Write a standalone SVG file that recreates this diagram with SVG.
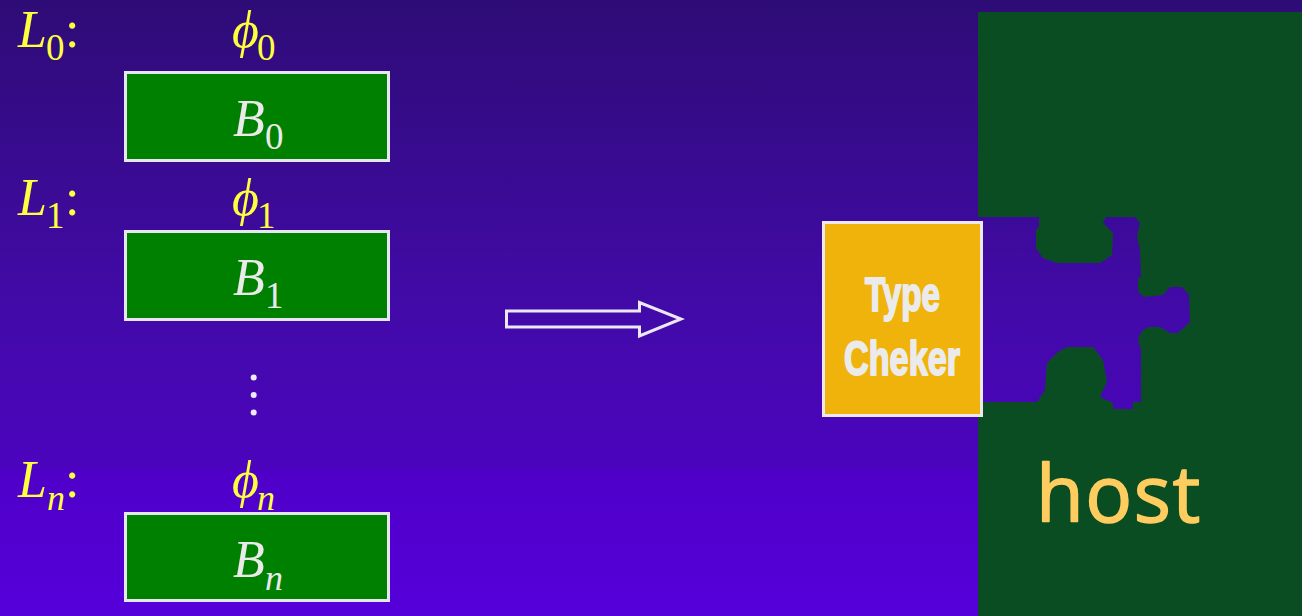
<svg xmlns="http://www.w3.org/2000/svg" width="1302" height="616" viewBox="0 0 1302 616">
<style>
.m{font-family:"Liberation Serif","Times New Roman",serif;font-style:italic;font-size:52px}
.s{font-size:37px;font-style:normal}
.si{font-size:36px;font-style:italic}
.c{font-size:52px;font-style:normal}
.y{fill:#ffff40}
.w{fill:#eaeaea}
.box{fill:#008000;stroke:#e8e6f2;stroke-width:3}
.tc{font-family:"Liberation Sans",Arial,sans-serif;font-weight:700;font-size:49px;fill:#ebebeb;stroke:#ebebeb;stroke-width:2;stroke-linejoin:round}
</style>
<defs>
<linearGradient id="bg" gradientUnits="userSpaceOnUse" x1="0" y1="0" x2="0" y2="616">
<stop offset="0" stop-color="#2e0c76"/>
<stop offset="0.5" stop-color="#420aa8"/>
<stop offset="0.76" stop-color="#4c04be"/>
<stop offset="0.765" stop-color="#4f00c8"/>
<stop offset="1" stop-color="#5500da"/>
</linearGradient>
</defs>
<rect id="background" width="1302" height="616" fill="url(#bg)"/>
<g id="host">
<rect x="978" y="12" width="324" height="604" fill="#0a4d22"/>
<path id="puzzle-cutout" fill="url(#bg)" d="M975 217H1039V227L1036 230V248L1043 258L1057 263H1100L1112 255L1113 233L1103 223L1106 217H1135L1140 223L1137 237L1140 250L1141 277L1138 278V291L1144 297L1163 295L1170 287H1182L1189 295L1190 322L1178 333H1170L1160 327H1148L1141 332L1138 340L1141 350V402H1133V409H1113V403L1100 397L1107 382L1103 360L1093 347H1067L1058 352L1047 363L1045 390L1037 402H975Z"/>
<text x="1036" y="522" font-family="'Open Sans','DejaVu Sans',sans-serif" font-size="78" letter-spacing="1.500" fill="#ffcc60" stroke="#ffcc60" stroke-width="1.500" stroke-linejoin="round">host</text>
</g>
<g id="label-0">
<text class="m y" x="18" y="47">L<tspan class="s" x="46" dy="13">0</tspan><tspan class="c" x="65" dy="-13">:</tspan></text>
<text class="m y" x="232" y="47">ϕ<tspan class="s" x="257" dy="13">0</tspan></text>
</g>
<g id="block-0">
<rect class="box" x="125.500" y="72.500" width="263" height="88"/>
<text class="m w" x="233" y="136">B<tspan class="s" x="265" dy="13">0</tspan></text>
</g>
<g id="label-1">
<text class="m y" x="18" y="215">L<tspan class="s" x="46" dy="13">1</tspan><tspan class="c" x="65" dy="-13">:</tspan></text>
<text class="m y" x="232" y="215">ϕ<tspan class="s" x="257" dy="13">1</tspan></text>
</g>
<g id="block-1">
<rect class="box" x="125.500" y="231.500" width="263" height="88"/>
<text class="m w" x="233" y="295">B<tspan class="s" x="265" dy="13">1</tspan></text>
</g>
<g id="ellipsis" fill="#eeeaf6">
<circle cx="253.700" cy="377.500" r="3"/><circle cx="253.700" cy="395" r="3"/><circle cx="253.700" cy="412.500" r="3"/>
</g>
<g id="label-n">
<text class="m y" x="18" y="497">L<tspan class="si" x="47" dy="13">n</tspan><tspan class="c" x="65" dy="-13">:</tspan></text>
<text class="m y" x="232" y="497">ϕ<tspan class="si" x="257" dy="13">n</tspan></text>
</g>
<g id="block-n">
<rect class="box" x="125.500" y="513.500" width="263" height="87"/>
<text class="m w" x="233" y="577">B<tspan class="si" x="265" dy="13">n</tspan></text>
</g>
<g id="connectors">
<path d="M506.500 311H639.500V302.500L681 319L639.500 336V327H506.500Z" fill="none" stroke="#ebe8f2" stroke-width="3"/>
</g>
<g id="type-checker">
<rect x="823.500" y="222.500" width="158" height="193" fill="#f0b30c" stroke="#ebe8f0" stroke-width="3"/>
<text class="tc" x="865" y="311" textLength="75" lengthAdjust="spacingAndGlyphs">Type</text>
<text class="tc" x="844" y="375" textLength="116" lengthAdjust="spacingAndGlyphs">Cheker</text>
</g>
</svg>
